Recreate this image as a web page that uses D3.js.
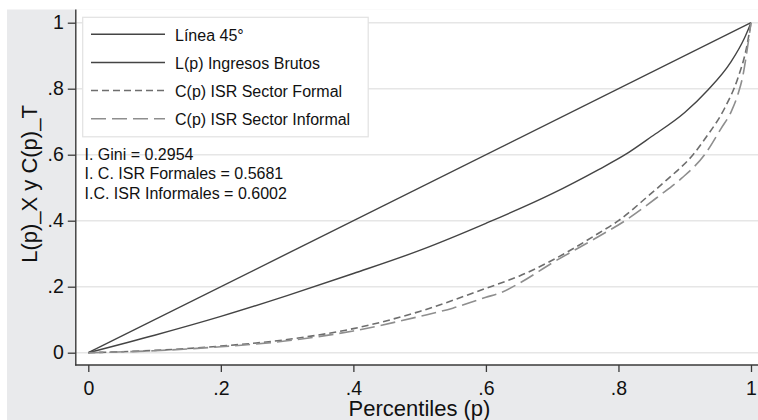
<!DOCTYPE html>
<html>
<head>
<meta charset="utf-8">
<script src="https://cdn.jsdelivr.net/npm/d3@7/dist/d3.min.js"></script>
<style>
  html, body { margin: 0; padding: 0; background: #ffffff; }
  svg { display: block; font-family: "Liberation Sans", Arial, sans-serif; }
</style>
</head>
<body>
<svg id="chart" width="758" height="420"></svg>
<script>
// Tick positions and labels shared by both axes
const tickValues = [0, 0.2, 0.4, 0.6, 0.8, 1];
const tickLabels = ["0", ".2", ".4", ".6", ".8", "1"];

// Line of perfect equality
const diagP = [0, 1];
const diagV = [0, 1];

// Lorenz curve of gross income
const lorenzP = [0, 0.1, 0.2, 0.3, 0.4, 0.5, 0.6, 0.7, 0.77, 0.81, 0.85, 0.9, 0.935, 0.97, 0.99, 1];
const lorenzL = [0, 0.053, 0.11, 0.173, 0.24, 0.31, 0.392, 0.482, 0.555, 0.60, 0.655, 0.728, 0.796, 0.882, 0.953, 1];

// Concentration curve, ISR formal sector
const formalP = [0, 0.1, 0.2, 0.3, 0.4, 0.5, 0.6, 0.65, 0.7, 0.77, 0.8, 0.845, 0.872, 0.9125, 0.933, 0.96, 0.98, 0.993, 1];
const formalC = [0, 0.007, 0.02, 0.04, 0.073, 0.125, 0.195, 0.232, 0.28, 0.362, 0.40, 0.475, 0.522, 0.60, 0.655, 0.74, 0.831, 0.922, 1];

// Concentration curve, ISR informal sector
const informalP = [0, 0.1, 0.2, 0.3, 0.4, 0.5, 0.55, 0.6, 0.62, 0.65, 0.7, 0.77, 0.81, 0.86, 0.895, 0.93, 0.955, 0.97, 0.98, 0.988, 0.993, 1];
const informalC = [0, 0.006, 0.018, 0.036, 0.066, 0.11, 0.135, 0.168, 0.18, 0.21, 0.272, 0.352, 0.40, 0.473, 0.528, 0.60, 0.68, 0.73, 0.781, 0.842, 0.902, 1];

const seriesNames = ["Línea 45°", "L(p) Ingresos Brutos", "C(p) ISR Sector Formal", "C(p) ISR Sector Informal"];
const indexNotes = ["I. Gini = 0.2954", "I. C. ISR Formales = 0.5681", "I.C. ISR Informales = 0.6002"];

const xTitle = "Percentiles (p)";
const yTitle = "L(p)_X y C(p)_T";

const svg = d3.select("#chart");

// Outer graph region and inner plot region
svg.append("rect").attr("x", 7).attr("y", 9.5).attr("width", 751).attr("height", 410.5).attr("fill", "#e9eaec");
svg.append("rect").attr("x", 76).attr("y", 9.5).attr("width", 682).attr("height", 355.5).attr("fill", "#ffffff");

const x = d3.scaleLinear().domain([0, 1]).range([88.3, 751]);
const y = d3.scaleLinear().domain([0, 1]).range([352.7, 22.7]);

// Horizontal gridlines
svg.append("g")
  .selectAll("line")
  .data(tickValues)
  .join("line")
  .attr("x1", 76).attr("x2", 758)
  .attr("y1", d => y(d)).attr("y2", d => y(d))
  .attr("stroke", "#e6e6e6").attr("stroke-width", 1.4);

// Axes
const fmt = d => tickLabels[tickValues.indexOf(d)];

const yAxis = svg.append("g")
  .attr("transform", "translate(75.8,0)")
  .call(d3.axisLeft(y).tickValues(tickValues).tickFormat(fmt).tickSize(8).tickSizeOuter(0).tickPadding(4));

const xAxis = svg.append("g")
  .attr("transform", "translate(0,365)")
  .call(d3.axisBottom(x).tickValues(tickValues).tickFormat(fmt).tickSize(7).tickSizeOuter(0).tickPadding(9));

[yAxis, xAxis].forEach(g => {
  g.select(".domain").remove();
  g.selectAll(".tick line").attr("stroke", "#3a3a3a").attr("stroke-width", 1.3);
  g.selectAll(".tick text").attr("fill", "#111").style("font-size", "19.5px").style("font-family", "'Liberation Sans', Arial, sans-serif");
});
xAxis.selectAll(".tick text").attr("dy", "0.71em");

// Axis lines
svg.append("line").attr("x1", 75.8).attr("x2", 75.8).attr("y1", 9.5).attr("y2", 365.6)
  .attr("stroke", "#3a3a3a").attr("stroke-width", 1.4);
svg.append("line").attr("x1", 75.1).attr("x2", 758).attr("y1", 365).attr("y2", 365)
  .attr("stroke", "#3a3a3a").attr("stroke-width", 1.4);

// Axis titles
svg.append("text")
  .attr("x", 419.5).attr("y", 416)
  .attr("text-anchor", "middle")
  .style("font-size", "22px").attr("fill", "#111")
  .text(xTitle);

svg.append("text")
  .attr("transform", "translate(37,184) rotate(-90)")
  .attr("text-anchor", "middle")
  .style("font-size", "22px").attr("fill", "#111")
  .text(yTitle);

// Curves
const series = [
  { p: diagP, v: diagV, color: "#444444", dash: null, width: 1.4 },
  { p: lorenzP, v: lorenzL, color: "#444444", dash: null, width: 1.4 },
  { p: formalP, v: formalC, color: "#6e6e6e", dash: "7,4", width: 1.6 },
  { p: informalP, v: informalC, color: "#8e8e8e", dash: "15,6", width: 1.6 }
];

const lineGen = d3.line()
  .x(d => x(d[0]))
  .y(d => y(d[1]))
  .curve(d3.curveMonotoneX);

svg.append("g")
  .selectAll("path")
  .data(series)
  .join("path")
  .attr("d", s => lineGen(s.p.map((p, i) => [p, s.v[i]])))
  .attr("fill", "none")
  .attr("stroke", s => s.color)
  .attr("stroke-width", s => s.width)
  .attr("stroke-dasharray", s => s.dash);

// Legend
const legend = svg.append("g");
legend.append("rect")
  .attr("x", 82.7).attr("y", 17.3).attr("width", 285.5).attr("height", 119.5)
  .attr("fill", "#ffffff").attr("stroke", "#e2e2e2").attr("stroke-width", 1.2);

const rowY = d3.scalePoint().domain(seriesNames).range([34.3, 118.7]);

const legendRows = legend.selectAll("g.row")
  .data(series.map((s, i) => ({ ...s, name: seriesNames[i] })))
  .join("g").attr("class", "row");

legendRows.append("line")
  .attr("x1", 91).attr("x2", 165)
  .attr("y1", d => rowY(d.name)).attr("y2", d => rowY(d.name))
  .attr("stroke", d => d.color)
  .attr("stroke-width", d => d.width)
  .attr("stroke-dasharray", d => d.dash);

legendRows.append("text")
  .attr("x", 175)
  .attr("y", d => rowY(d.name) + 6.5)
  .style("font-size", "16px").attr("fill", "#111")
  .text(d => d.name);

// Index annotations
svg.append("g")
  .selectAll("text")
  .data(indexNotes)
  .join("text")
  .attr("x", 84.5)
  .attr("y", (d, i) => 159.5 + i * 19.5)
  .style("font-size", "16px").attr("fill", "#111")
  .text(d => d);
</script>
</body>
</html>
